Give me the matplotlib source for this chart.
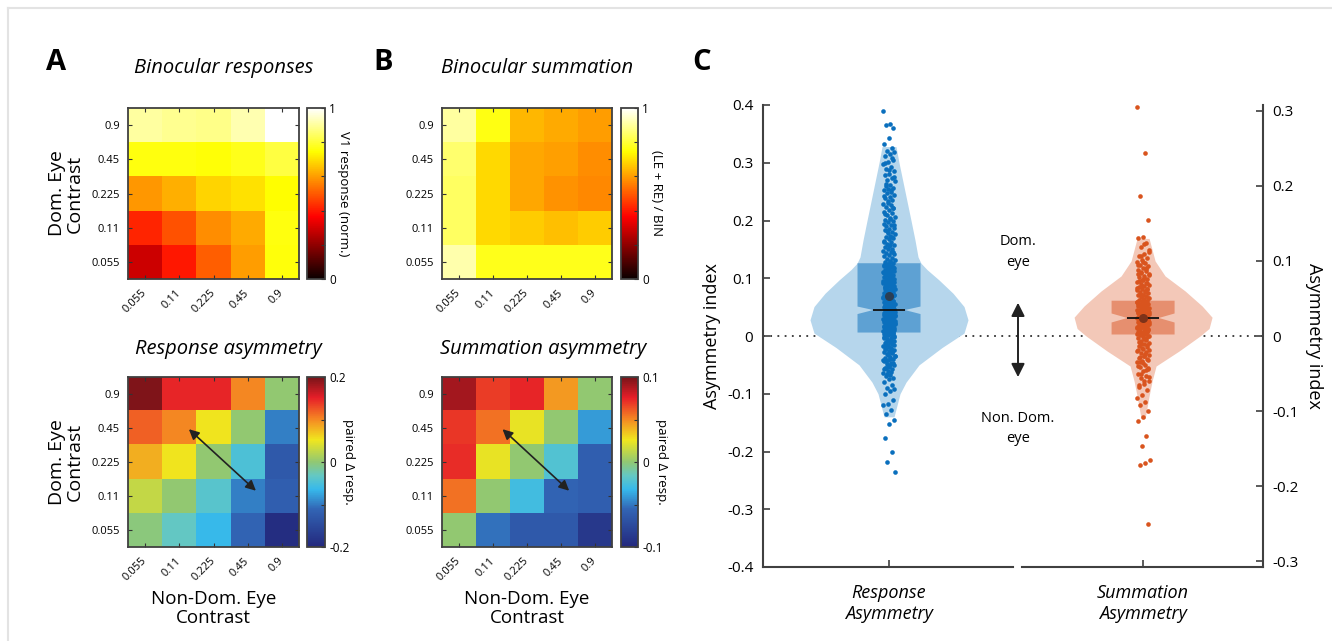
import numpy as np
import matplotlib
matplotlib.use("Agg")
import matplotlib.pyplot as plt
from matplotlib.colors import LinearSegmentedColormap
from matplotlib.lines import Line2D
from matplotlib.transforms import ScaledTranslation

plt.rcParams['font.family'] = ['Open Sans', 'DejaVu Sans']
plt.rcParams['axes.unicode_minus'] = False

# ---------------- data ----------------
contrasts = ['0.055', '0.11', '0.225', '0.45', '0.9']   # non-dominant eye (columns)
dom_contrasts = contrasts[::-1]                          # dominant eye (rows, top -> bottom)

# Binocular responses (norm.)
bin_resp = np.array([
    [0.905, 0.89, 0.88, 0.92, 1.00],
    [0.76, 0.76, 0.75, 0.77, 0.81],
    [0.59, 0.625, 0.68, 0.70, 0.745],
    [0.42, 0.485, 0.575, 0.62, 0.76],
    [0.29, 0.40, 0.505, 0.60, 0.755],
])
# Binocular summation (LE + RE) / BIN
bin_sum = np.array([
    [0.905, 0.765, 0.64, 0.62, 0.60],
    [0.855, 0.69, 0.615, 0.605, 0.575],
    [0.84, 0.69, 0.615, 0.585, 0.57],
    [0.84, 0.69, 0.67, 0.65, 0.67],
    [0.915, 0.77, 0.77, 0.77, 0.77],
])
# Response asymmetry (paired delta resp.)
resp_asym = np.array([
    [0.196, 0.148, 0.148, 0.10, 0.0],
    [0.12, 0.10, 0.052, 0.0, -0.096],
    [0.08, 0.052, 0.0, -0.048, -0.128],
    [0.028, 0.0, -0.04, -0.096, -0.12],
    [-0.004, -0.032, -0.064, -0.112, -0.192],
])
# Summation asymmetry (paired delta resp.)
sum_asym = np.array([
    [0.09, 0.068, 0.074, 0.046, 0.0],
    [0.07, 0.056, 0.024, 0.0, -0.04],
    [0.072, 0.024, 0.0, -0.022, -0.06],
    [0.056, 0.0, -0.028, -0.056, -0.06],
    [0.0, -0.052, -0.064, -0.064, -0.088],
])

# Asymmetry index per unit, response asymmetry (left axis)
resp_index = [
    0.390, 0.367, 0.365, 0.361, 0.342, 0.333, 0.326, 0.321, 0.318, 0.316, 0.311, 0.305,
    0.301, 0.297, 0.293, 0.289, 0.285, 0.281, 0.279, 0.274, 0.270, 0.268, 0.262, 0.259,
    0.257, 0.255, 0.252, 0.249, 0.247, 0.244, 0.241, 0.239, 0.236, 0.233, 0.229, 0.226,
    0.224, 0.221, 0.218, 0.215, 0.213, 0.209, 0.206, 0.204, 0.201, 0.199, 0.197, 0.194,
    0.193, 0.190, 0.187, 0.186, 0.183, 0.180, 0.179, 0.176, 0.174, 0.171, 0.169, 0.168,
    0.165, 0.162, 0.160, 0.158, 0.157, 0.154, 0.151, 0.150, 0.148, 0.146, 0.143, 0.142,
    0.140, 0.138, 0.135, 0.134, 0.132, 0.130, 0.128, 0.127, 0.125, 0.123, 0.121, 0.120,
    0.118, 0.116, 0.115, 0.113, 0.111, 0.110, 0.108, 0.106, 0.105, 0.103, 0.102, 0.100,
    0.099, 0.098, 0.096, 0.095, 0.094, 0.092, 0.091, 0.090, 0.089, 0.087, 0.086, 0.085,
    0.083, 0.082, 0.081, 0.080, 0.078, 0.077, 0.076, 0.075, 0.073, 0.072, 0.071, 0.070,
    0.069, 0.067, 0.066, 0.065, 0.064, 0.062, 0.061, 0.060, 0.059, 0.058, 0.057, 0.055,
    0.054, 0.053, 0.052, 0.051, 0.050, 0.049, 0.048, 0.047, 0.046, 0.045, 0.044, 0.043,
    0.042, 0.041, 0.040, 0.039, 0.038, 0.037, 0.036, 0.035, 0.034, 0.033, 0.032, 0.031,
    0.030, 0.029, 0.028, 0.027, 0.026, 0.025, 0.024, 0.023, 0.022, 0.021, 0.020, 0.019,
    0.018, 0.017, 0.016, 0.015, 0.014, 0.013, 0.012, 0.011, 0.010, 0.009, 0.008, 0.007,
    0.006, 0.005, 0.004, 0.003, 0.002, 0.001, 0.000, 0.064, 0.052, 0.041, 0.033, 0.027,
    0.021, 0.016, 0.011, 0.007, 0.003, 0.058, 0.046, 0.037, 0.029, 0.019, 0.013, 0.005,
    -0.002, -0.004, -0.006, -0.008, -0.010, -0.012, -0.014, -0.016, -0.018, -0.020,
    -0.022, -0.024, -0.026, -0.028, -0.030, -0.032, -0.034, -0.036, -0.038, -0.040,
    -0.042, -0.044, -0.046, -0.048, -0.051, -0.053, -0.056, -0.058, -0.061, -0.064,
    -0.067, -0.070, -0.072, -0.075, -0.080, -0.085, -0.090, -0.092, -0.095, -0.100,
    -0.110, -0.118, -0.120, -0.128, -0.135, -0.145, -0.153, -0.176, -0.200, -0.218, -0.235,
    0.128, 0.124, 0.119, 0.114, 0.109, 0.104, 0.097, 0.093, 0.088, 0.084, 0.079, 0.074,
    0.068, 0.063, 0.056, 0.050, 0.044, 0.039, 0.034, 0.028, 0.022, 0.017, 0.012, 0.006,
    0.001, -0.003, -0.007, -0.011, -0.015, -0.019, -0.023, -0.027, -0.031, -0.035,
    -0.039, -0.043, -0.047, -0.052, -0.057, -0.062, -0.066, 0.071, 0.076, 0.081, 0.086,
    0.091, 0.096, 0.101, 0.107, 0.112, 0.117, 0.122, 0.014, 0.024, 0.035, 0.045, 0.055,
    0.060, 0.065, 0.070, 0.020, 0.009, -0.001, -0.009, -0.017, -0.025, -0.033, -0.041,
    -0.049, -0.055, 0.145, 0.155, 0.163, 0.172, 0.182, 0.192, 0.203, 0.211, 0.222, 0.231,
    0.243, 0.253, 0.264, 0.276, 0.287, 0.299, 0.309, 0.032, 0.026, 0.038, 0.048, 0.053,
    0.042, 0.018, 0.008, 0.004,
]
# Asymmetry index per unit, summation asymmetry (right axis)
sum_index = [
    0.305, 0.244, 0.187, 0.155, 0.132, 0.131, 0.124, 0.118, 0.112, 0.109, 0.106, 0.104,
    0.101, 0.099, 0.097, 0.095, 0.093, 0.090, 0.088, 0.086, 0.084, 0.082, 0.080, 0.078,
    0.076, 0.074, 0.072, 0.071, 0.069, 0.068, 0.066, 0.065, 0.063, 0.062, 0.061, 0.059,
    0.058, 0.057, 0.055, 0.054, 0.053, 0.052, 0.050, 0.049, 0.048, 0.047, 0.046, 0.045,
    0.044, 0.043, 0.042, 0.041, 0.040, 0.039, 0.038, 0.037, 0.036, 0.035, 0.034, 0.033,
    0.032, 0.031, 0.030, 0.029, 0.028, 0.027, 0.026, 0.025, 0.024, 0.023, 0.022, 0.021,
    0.020, 0.019, 0.018, 0.017, 0.016, 0.015, 0.014, 0.013, 0.012, 0.011, 0.010, 0.009,
    0.008, 0.007, 0.006, 0.005, 0.004, 0.003, 0.002, 0.001, 0.000, 0.036, 0.031, 0.027,
    0.023, 0.019, 0.015, 0.011, 0.007, 0.003, 0.034, 0.026, 0.017, 0.009, -0.001, -0.003,
    -0.005, -0.007, -0.009, -0.011, -0.013, -0.015, -0.017, -0.019, -0.021, -0.023,
    -0.025, -0.027, -0.029, -0.031, -0.033, -0.035, -0.038, -0.041, -0.044, -0.047,
    -0.050, -0.053, -0.056, -0.060, -0.064, -0.068, -0.072, -0.078, -0.083, -0.088,
    -0.092, -0.100, -0.108, -0.113, -0.133, -0.146, -0.165, -0.169, -0.172, -0.250,
    0.098, 0.094, 0.089, 0.085, 0.081, 0.077, 0.073, 0.070, 0.067, 0.064, 0.060, 0.056,
    0.051, 0.047, 0.043, 0.039, 0.035, 0.032, 0.028, 0.024, 0.020, 0.016, 0.012, 0.008,
    0.004, 0.000, -0.004, -0.008, -0.012, -0.016, -0.020, -0.024, -0.028, -0.032,
    -0.036, -0.040, -0.045, -0.050, -0.055, -0.060, -0.065, 0.062, 0.054, 0.045, 0.037,
    0.029, 0.021, 0.013, 0.005, -0.002, -0.010, -0.018, -0.026, -0.034, -0.042, 0.075,
    0.083, 0.091, 0.107, 0.115, 0.122,
]

# box statistics
resp_stats = dict(q1=0.006, q3=0.126, med=0.045, cilo=0.038, cihi=0.051, mean=0.069)
sum_stats = dict(q1=0.002, q3=0.047, med=0.024, cilo=0.018, cihi=0.030, mean=0.0245)

# violin outlines (value, half width in px)
resp_violin_y = [0.328, 0.30, 0.25, 0.20, 0.166, 0.137, 0.126, 0.115, 0.097, 0.074, 0.051,
                 0.028, 0.005, -0.02, -0.05, -0.08, -0.10, -0.14]
resp_violin_w = [7, 10, 16, 22, 26, 29, 32, 38, 50, 64, 75, 79, 75, 53, 30, 17, 11, 5]
sum_violin_y = [0.13, 0.12, 0.10, 0.08, 0.06, 0.04, 0.025, 0.01, 0.0, -0.02, -0.04, -0.06,
                -0.08, -0.11]
sum_violin_w = [6, 8, 12, 22, 42, 59, 69, 66, 57, 36, 13, 9, 6, 2]

# ---------------- figure ----------------
W, H = 1332, 641
fig = plt.figure(figsize=(W / 100, H / 100), dpi=100)


def frac(x0, y0, x1, y1):
    return [x0 / W, 1 - y1 / H, (x1 - x0) / W, (y1 - y0) / H]


jet_like = LinearSegmentedColormap.from_list('jetlike', [
    (0.0, (35/255, 40/255, 125/255)),
    (0.22, (50/255, 100/255, 180/255)),
    (0.34, (55/255, 185/255, 235/255)),
    (0.42, (100/255, 200/255, 195/255)),
    (0.5, (145/255, 200/255, 115/255)),
    (0.63, (240/255, 230/255, 30/255)),
    (0.76, (245/255, 130/255, 35/255)),
    (0.88, (230/255, 30/255, 40/255)),
    (1.0, (120/255, 20/255, 25/255)),
])
hot = plt.get_cmap('hot')
edge = '#404040'
shift = ScaledTranslation(6 / 72, 1 / 72, fig.dpi_scale_trans)


def heatmap(rect, cbrect, data, cmap, vmin, vmax, cticks, clabels, clabel, clpad):
    ax = fig.add_axes(rect)
    im = ax.imshow(data, cmap=cmap, vmin=vmin, vmax=vmax, aspect='auto',
                   interpolation='nearest')
    ax.set_xticks(range(5))
    ax.set_xticklabels(contrasts, rotation=45, ha='right', va='center',
                       rotation_mode='anchor', fontsize=8)
    for lbl in ax.get_xticklabels():
        lbl.set_transform(lbl.get_transform() + shift)
    ax.set_yticks(range(5))
    ax.set_yticklabels(dom_contrasts, fontsize=8)
    ax.tick_params(direction='in', top=True, right=True, length=3, width=0.8,
                   color='#333333', pad=6)
    ax.tick_params(axis='x', pad=9)
    for s in ax.spines.values():
        s.set_linewidth(1.3)
        s.set_color(edge)
    cax = fig.add_axes(cbrect)
    cb = fig.colorbar(im, cax=cax)
    cb.set_ticks(cticks)
    cb.set_ticklabels(clabels)
    cax.tick_params(direction='in', length=3, width=0.8, labelsize=8.5, pad=3,
                    color='#333333')
    cb.outline.set_linewidth(1.3)
    cb.outline.set_edgecolor(edge)
    cb.set_label(clabel, rotation=270, fontsize=9.5, labelpad=clpad)
    return ax


axA1 = heatmap(frac(128, 108, 299, 279), frac(307, 108, 325, 279), bin_resp, hot, 0, 1,
               [0, 0.2, 0.4, 0.6, 0.8, 1], ['0', '', '', '', '', '1'],
               'V1 response (norm.)', 10)
axB1 = heatmap(frac(442, 108, 612, 279), frac(621, 108, 638, 279), bin_sum, hot, 0, 1,
               [0, 0.2, 0.4, 0.6, 0.8, 1], ['0', '', '', '', '', '1'],
               '(LE + RE) / BIN', 10)
axA2 = heatmap(frac(128, 377, 299, 547), frac(307, 377, 325, 547), resp_asym, jet_like,
               -0.2, 0.2, [-0.2, -0.1, 0, 0.1, 0.2], ['-0.2', '', '0', '', '0.2'],
               'paired Δ resp.', 4)
axB2 = heatmap(frac(442, 377, 612, 547), frac(621, 377, 638, 547), sum_asym, jet_like,
               -0.1, 0.1, [-0.1, -0.05, 0, 0.05, 0.1], ['-0.1', '', '0', '', '0.1'],
               'paired Δ resp.', 4)

for ax in (axA2, axB2):
    ax.annotate('', xy=(3.3, 2.9), xytext=(1.22, 0.98),
                arrowprops=dict(arrowstyle='<|-|>', color='#222222', lw=1.2,
                                mutation_scale=15))

for ax in (axA1, axA2):
    ax.set_ylabel('Dom. Eye\nContrast', fontsize=14, labelpad=5, linespacing=1.05)
for ax in (axA2, axB2):
    ax.set_xlabel('Non-Dom. Eye\nContrast', fontsize=13.5, labelpad=5, linespacing=1.05)

fig.text(224 / W, 1 - 68 / H, 'Binocular responses', fontsize=14.5, style='italic',
         ha='center', va='center')
fig.text(537 / W, 1 - 68 / H, 'Binocular summation', fontsize=14.5, style='italic',
         ha='center', va='center')
fig.text(228 / W, 1 - 349 / H, 'Response asymmetry', fontsize=14.5, style='italic',
         ha='center', va='center')
fig.text(543 / W, 1 - 349 / H, 'Summation asymmetry', fontsize=14.5, style='italic',
         ha='center', va='center')
for lbl, x in (('A', 56), ('B', 383), ('C', 702)):
    fig.text(x / W, 1 - 62 / H, lbl, fontsize=21, fontweight='bold', ha='center',
             va='center')

# ---------------- panel C ----------------
axC = fig.add_axes(frac(763, 105, 1263, 567))
axC.set_xlim(0.504, 2.472)
axC.set_ylim(-0.4, 0.4)
axC2 = axC.twinx()
axC2.set_ylim(-0.4 / 1.3, 0.4 / 1.3)
px = (2.472 - 0.504) / 500.0   # data units per pixel in x

blue_pts, blue_violin, blue_box, blue_mean = '#0a6fbd', '#b6d6ec', '#5ea1d3', '#2b3f55'
red_pts, red_violin, red_box, red_mean = '#d9541e', '#f3c8b8', '#e68f6f', '#7d3219'


def draw_group(ax, pos, vals, vy, vw, st, c_pts, c_violin, c_box, c_mean, spread):
    vw = np.array(vw) * px
    ax.fill_betweenx(vy, pos - vw, pos + vw, color=c_violin, lw=0, zorder=1)
    stats = [dict(med=st['med'], q1=st['q1'], q3=st['q3'], cilo=st['cilo'],
                  cihi=st['cihi'], mean=st['mean'], whislo=st['q1'], whishi=st['q3'],
                  fliers=[])]
    ax.bxp(stats, positions=[pos], widths=[63 * px], shownotches=True,
           patch_artist=True, showcaps=False, showfliers=False, showmeans=True,
           manage_ticks=False, zorder=2,
           boxprops=dict(facecolor=c_box, edgecolor='none', linewidth=0),
           whiskerprops=dict(linewidth=0),
           medianprops=dict(color='#111111', linewidth=1.3, zorder=5),
           meanprops=dict(marker='o', markerfacecolor=c_mean, markeredgecolor='none',
                          markersize=6.5, zorder=6))
    n = len(vals)
    jitter = ((np.arange(n) * 0.6180339) % 1.0 - 0.5) * 2 * spread * px
    ax.scatter(pos + jitter, vals, s=11, color=c_pts, linewidths=0, zorder=3)


draw_group(axC, 1, resp_index, resp_violin_y, resp_violin_w, resp_stats,
           blue_pts, blue_violin, blue_box, blue_mean, 6)
draw_group(axC2, 2, sum_index, sum_violin_y, sum_violin_w, sum_stats,
           red_pts, red_violin, red_box, red_mean, 6.5)

axC.axhline(0, color='#333333', ls=(0, (1, 3)), lw=1.3, zorder=0.5)

for s in ('top', 'right', 'bottom'):
    axC.spines[s].set_visible(False)
for s in ('top', 'left', 'bottom'):
    axC2.spines[s].set_visible(False)
axC.spines['left'].set_linewidth(1.5)
axC.spines['left'].set_color(edge)
axC2.spines['right'].set_linewidth(1.5)
axC2.spines['right'].set_color(edge)
# broken bottom axis
axC.axhline(-0.4, xmin=0, xmax=0.5, color=edge, lw=1.5, clip_on=False)
axC.axhline(-0.4, xmin=0.518, xmax=1, color=edge, lw=1.5, clip_on=False)

axC.set_yticks(np.round(np.arange(-0.4, 0.41, 0.1), 1))
axC.set_yticklabels(['-0.4', '-0.3', '-0.2', '-0.1', '0', '0.1', '0.2', '0.3', '0.4'])
axC2.set_yticks(np.round(np.arange(-0.3, 0.31, 0.1), 1))
axC2.set_yticklabels(['-0.3', '-0.2', '-0.1', '0', '0.1', '0.2', '0.3'])
axC.tick_params(axis='y', direction='in', length=5, width=1.2, labelsize=11, pad=7,
                color=edge)
axC2.tick_params(axis='y', direction='in', length=5, width=1.2, labelsize=11, pad=7,
                 color=edge)
axC.set_xticks([1, 2])
axC.set_xticklabels(['Response\nAsymmetry', 'Summation\nAsymmetry'], fontsize=13,
                    style='italic', linespacing=1.25)
axC.tick_params(axis='x', direction='in', length=5, width=1.2, pad=12, color=edge)
axC.set_ylabel('Asymmetry index', fontsize=13, labelpad=4)
axC2.set_ylabel('Asymmetry index', fontsize=13, rotation=270, labelpad=17)

axC.annotate('', xy=(0.51, 0.578), xytext=(0.51, 0.405), xycoords='axes fraction',
             arrowprops=dict(arrowstyle='<|-|>', color='#222222', lw=1.4,
                             mutation_scale=20))
axC.text(0.51, 0.682, 'Dom.\neye', transform=axC.transAxes, ha='center', va='center',
         fontsize=10.5, linespacing=1.5)
axC.text(0.51, 0.300, 'Non. Dom.\neye', transform=axC.transAxes, ha='center',
         va='center', fontsize=10.5, linespacing=1.5)

# light frame of the figure
fig.add_artist(Line2D([8 / W, 1], [1 - 8 / H, 1 - 8 / H], transform=fig.transFigure,
                      color='#e3e3e3', lw=1.5))
fig.add_artist(Line2D([8 / W, 8 / W], [0, 1 - 8 / H], transform=fig.transFigure,
                      color='#e3e3e3', lw=1.5))

fig.savefig('out.png', dpi=100)
